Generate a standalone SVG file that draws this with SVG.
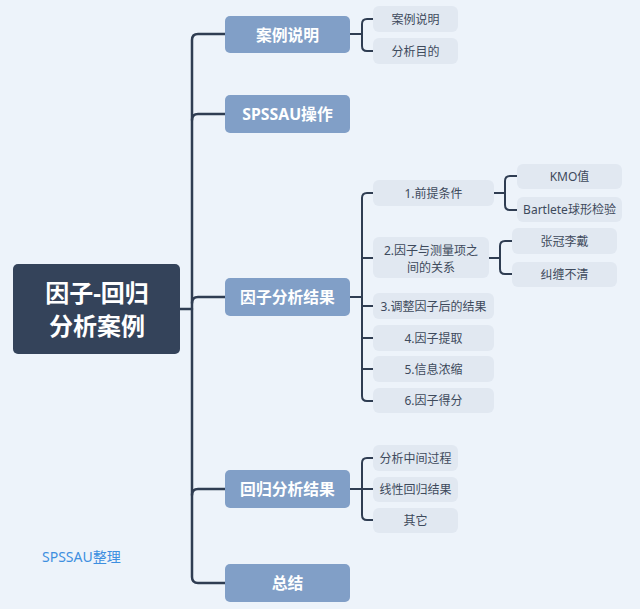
<svg xmlns="http://www.w3.org/2000/svg" width="640" height="609" viewBox="0 0 640 609">
<style>
.root{fill:#34435A}
.main{fill:#819FC7}
.sub{fill:#E1E8F1}
.rt{font-family:"Noto Sans","Noto Sans CJK SC",sans-serif;font-weight:bold;font-size:24px;fill:#FFFFFF;text-anchor:middle}
.mt{font-family:"Noto Sans","Noto Sans CJK SC",sans-serif;font-weight:bold;font-size:15.8px;fill:#FFFFFF;text-anchor:middle;dominant-baseline:central}
.st{font-family:"Noto Sans","Noto Sans CJK SC",sans-serif;font-size:12px;fill:#3E4A5C;text-anchor:middle;dominant-baseline:central}
.c1{fill:none;stroke:#2F3D52;stroke-width:2.5;stroke-linecap:round}
.c2{fill:none;stroke:#2F3D52;stroke-width:2;stroke-linecap:round}
</style>
<rect x="0" y="0" width="640" height="609" fill="#EDF3FA"/>
<g id="connectors">
<path class="c1" d="M180,309 H192"/>
<path class="c1" d="M225,34 H198 Q192,34 192,40 V577 Q192,583 198,583 H225"/>
<path class="c1" d="M192,120 Q192,114 198,114 H225"/>
<path class="c1" d="M192,303 Q192,297 198,297 H225"/>
<path class="c1" d="M192,495 Q192,489 198,489 H225"/>
<path class="c2" d="M350,34 H362"/>
<path class="c2" d="M373,19 H367 Q362,19 362,24 V46 Q362,51 367,51 H373"/>
<path class="c2" d="M350,297 H362"/>
<path class="c2" d="M373,193 H367 Q362,193 362,198 V396 Q362,401 367,401 H373"/>
<path class="c2" d="M362,258 H373 M362,306 H373 M362,338 H373 M362,369 H373"/>
<path class="c2" d="M494,193 H505"/>
<path class="c2" d="M517,176 H510 Q505,176 505,181 V205 Q505,210 510,210 H517"/>
<path class="c2" d="M489,258 H500"/>
<path class="c2" d="M512,241 H505 Q500,241 500,246 V269 Q500,274 505,274 H512"/>
<path class="c2" d="M350,489 H373"/>
<path class="c2" d="M373,458 H367 Q362,458 362,463 V515 Q362,520 367,520 H373"/>
</g>
<g id="root">
<rect class="root" x="13" y="264" width="167" height="90" rx="5"/>
<text class="rt" x="97" y="302">因子-回归</text>
<text class="rt" x="97" y="335">分析案例</text>
</g>
<g id="n-case">
<rect class="main" x="225" y="16" width="125" height="37" rx="5"/>
<text class="mt" x="287.5" y="34.5">案例说明</text>
</g>
<g id="n-case-1">
<rect class="sub" x="373" y="6" width="85" height="26" rx="6"/>
<text class="st" x="415.5" y="19">案例说明</text>
</g>
<g id="n-case-2">
<rect class="sub" x="373" y="38" width="85" height="26" rx="6"/>
<text class="st" x="415.5" y="51">分析目的</text>
</g>
<g id="n-op">
<rect class="main" x="225" y="95" width="125" height="38" rx="5"/>
<text class="mt" x="287.5" y="114">SPSSAU操作</text>
</g>
<g id="n-factor">
<rect class="main" x="225" y="278" width="125" height="38" rx="5"/>
<text class="mt" x="287.5" y="297">因子分析结果</text>
</g>
<g id="n-f1">
<rect class="sub" x="373" y="180" width="121" height="26" rx="6"/>
<text class="st" x="433.5" y="193">1.前提条件</text>
</g>
<g id="n-kmo">
<rect class="sub" x="517" y="164" width="105" height="25" rx="6"/>
<text class="st" x="569.5" y="176.5">KMO值</text>
</g>
<g id="n-bart">
<rect class="sub" x="517" y="197" width="105" height="25" rx="6"/>
<text class="st" x="569.5" y="209.5">Bartlete球形检验</text>
</g>
<g id="n-f2">
<rect class="sub" x="373" y="237" width="116" height="41" rx="6"/>
<text class="st" x="431" y="250">2.因子与测量项之</text>
<text class="st" x="431" y="267">间的关系</text>
</g>
<g id="n-zg">
<rect class="sub" x="512" y="228" width="105" height="26" rx="6"/>
<text class="st" x="564.5" y="241">张冠李戴</text>
</g>
<g id="n-jc">
<rect class="sub" x="512" y="262" width="105" height="25" rx="6"/>
<text class="st" x="564.5" y="274.5">纠缠不清</text>
</g>
<g id="n-f3">
<rect class="sub" x="373" y="293" width="121" height="26" rx="6"/>
<text class="st" x="433.5" y="306">3.调整因子后的结果</text>
</g>
<g id="n-f4">
<rect class="sub" x="373" y="325" width="121" height="26" rx="6"/>
<text class="st" x="433.5" y="338">4.因子提取</text>
</g>
<g id="n-f5">
<rect class="sub" x="373" y="356" width="121" height="26" rx="6"/>
<text class="st" x="433.5" y="369">5.信息浓缩</text>
</g>
<g id="n-f6">
<rect class="sub" x="373" y="388" width="121" height="25" rx="6"/>
<text class="st" x="433.5" y="400.5">6.因子得分</text>
</g>
<g id="n-reg">
<rect class="main" x="225" y="470" width="125" height="38" rx="5"/>
<text class="mt" x="287.5" y="489">回归分析结果</text>
</g>
<g id="n-r1">
<rect class="sub" x="373" y="445" width="85" height="26" rx="6"/>
<text class="st" x="415.5" y="458">分析中间过程</text>
</g>
<g id="n-r2">
<rect class="sub" x="373" y="477" width="85" height="25" rx="6"/>
<text class="st" x="415.5" y="489.5">线性回归结果</text>
</g>
<g id="n-r3">
<rect class="sub" x="373" y="508" width="85" height="25" rx="6"/>
<text class="st" x="415.5" y="520.5">其它</text>
</g>
<g id="n-sum">
<rect class="main" x="225" y="564" width="125" height="38" rx="5"/>
<text class="mt" x="287.5" y="583">总结</text>
</g>
<g id="label">
<text x="42" y="556" font-family="Noto Sans,Noto Sans CJK SC,sans-serif" font-size="14" fill="#3D8FE0" dominant-baseline="central">SPSSAU整理</text>
</g>
</svg>
